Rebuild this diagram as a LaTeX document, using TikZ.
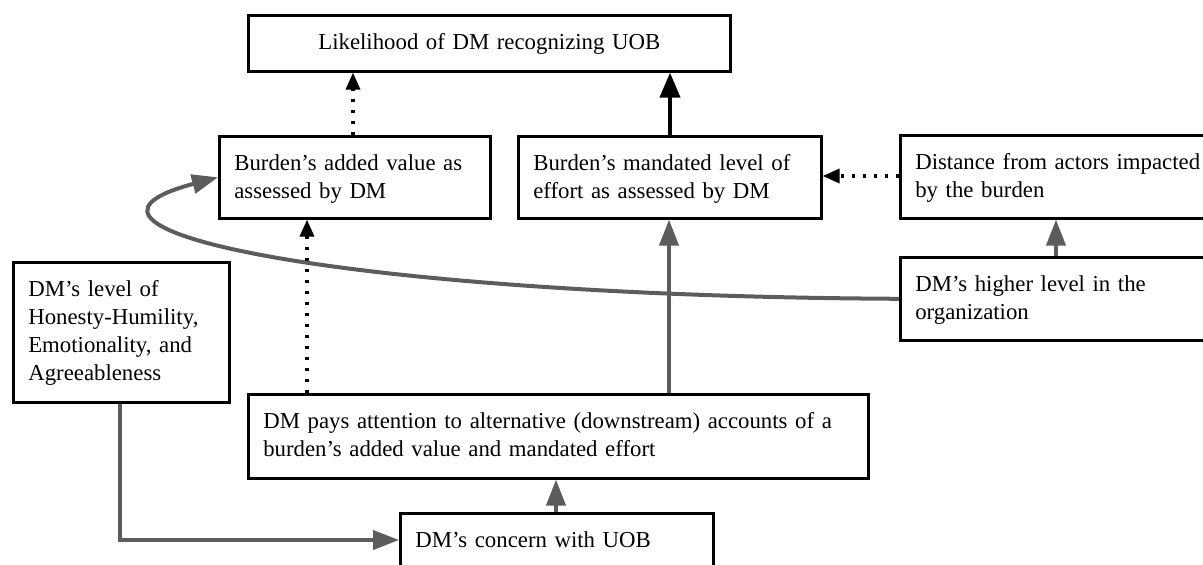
\documentclass[tikz,border=0pt]{standalone}
\usepackage{fontspec}
\setmainfont{Liberation Serif}
\usetikzlibrary{arrows.meta}
\definecolor{linkgray}{RGB}{92,92,92}
\tikzset{
  box/.style n args={2}{draw=black, line width=2.6pt, fill=white, rectangle,
    anchor=north west, inner xsep=15pt, inner ysep=0pt,
    text width=#1-30pt, text height=34pt, text depth=#2-34pt, align=left,
    font=\fontsize{22.8}{28}\selectfont},
  grayarrow/.style={draw=linkgray, line width=4pt,
    -{Triangle[length=26pt,width=19pt]}},
  blackarrow/.style={draw=black, line width=4pt,
    -{Triangle[length=25pt,width=20pt]}},
  dotarrow/.style={draw=black, line width=3.4pt,
    dash pattern=on 3.4pt off 7.6pt,
    -{Triangle[length=17pt,width=14pt]}},
}
\begin{document}
\begin{tikzpicture}[x=1pt, y=-1pt]
\useasboundingbox (0,0) rectangle (1203,565);
\clip (0,0) rectangle (1203,565);

% boxes
\node[box={482pt}{56pt}, align=center] (top) at (247,14) {Likelihood of DM recognizing UOB};
\node[box={271pt}{82pt}] (bav) at (218,135) {Burden’s added value as\\assessed by DM};
\node[box={303pt}{82pt}] (bme) at (517,135) {Burden’s mandated level of\\effort as assessed by DM};
\node[box={320pt}{83pt}] (dist) at (899,134) {Distance from actors impacted\\by the burden};
\node[box={320pt}{83pt}] (high) at (899,256) {DM’s higher level in the\\organization};
\node[box={216pt}{140pt}] (hon) at (12,261) {DM’s level of\\Honesty-Humility,\\Emotionality, and\\Agreeableness};
\node[box={620pt}{84pt}] (pay) at (247,393) {DM pays attention to alternative (downstream) accounts of a\\burden’s added value and mandated effort};
\node[box={313pt}{88pt}] (conc) at (399,512) {DM’s concern with UOB};

% x positions of the vertical connectors
\coordinate (xa) at (353,0);
\coordinate (xb) at (670,0);
\coordinate (xc) at (307,0);
\coordinate (xd) at (669,0);
\coordinate (xe) at (556,0);
\coordinate (xf) at (1056,0);
\coordinate (xg) at (120,0);
\coordinate (yd) at (0,176);

% connectors
\draw[grayarrow] (high.west) .. controls (350,296) and (20,230) .. (bav.west);
\draw[dotarrow] (bav.north -| xa) -- (top.south -| xa);
\draw[blackarrow] (bme.north -| xb) -- (top.south -| xb);
\draw[dotarrow] (dist.west |- yd) -- (bme.east |- yd);
\draw[grayarrow] (high.north -| xf) -- (dist.south -| xf);
\draw[dotarrow] (pay.north -| xc) -- (bav.south -| xc);
\draw[grayarrow] (pay.north -| xd) -- (bme.south -| xd);
\draw[grayarrow] (conc.north -| xe) -- (pay.south -| xe);
\draw[grayarrow] (hon.south -| xg) |- ([yshift=-28pt]conc.north west);
\end{tikzpicture}
\end{document}
